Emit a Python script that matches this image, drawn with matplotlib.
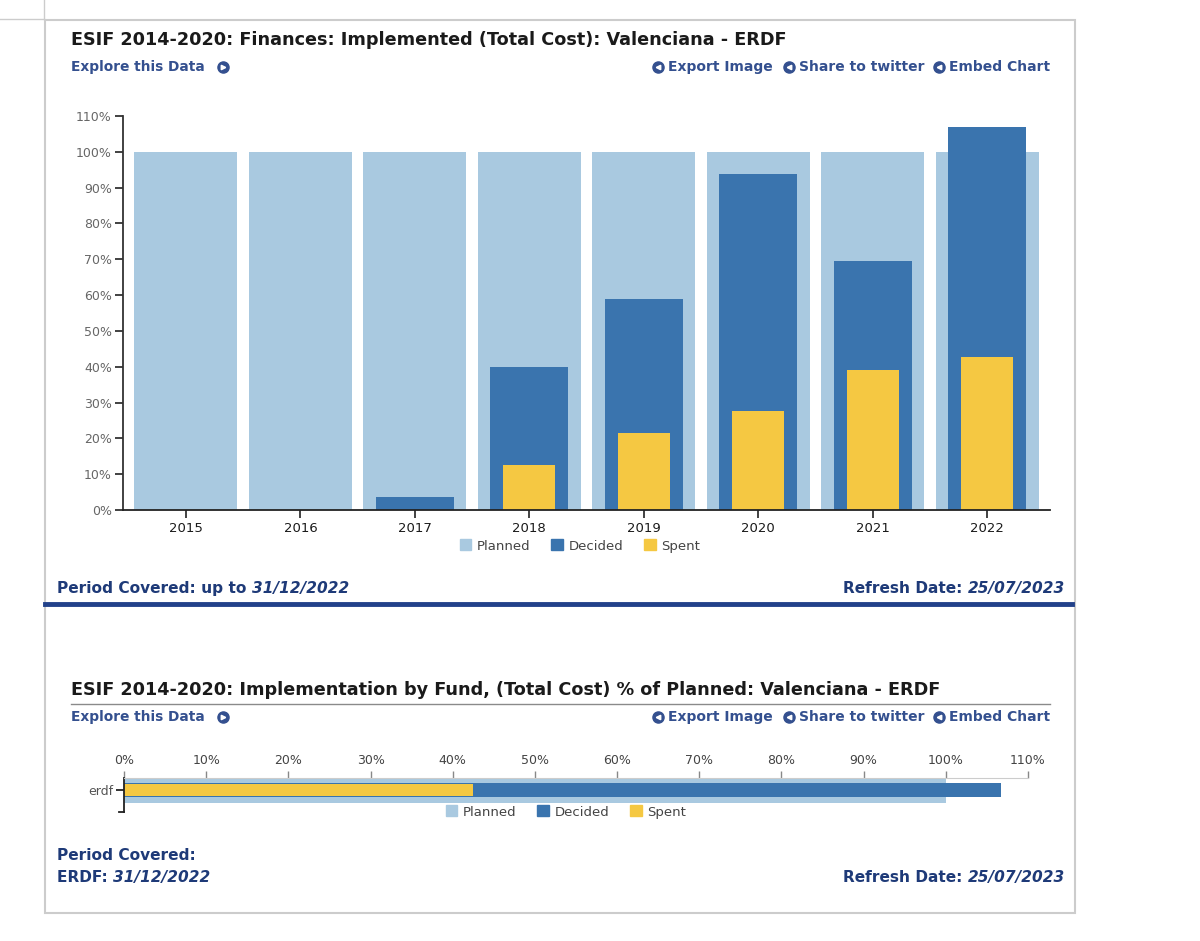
import matplotlib
matplotlib.use("Agg")
import matplotlib.pyplot as plt
from matplotlib.patches import Patch, Rectangle
from matplotlib.lines import Line2D
import numpy as np

# data
years = ["2015", "2016", "2017", "2018", "2019", "2020", "2021", "2022"]
planned = [100, 100, 100, 100, 100, 100, 100, 100]
decided = [0, 0, 3.6, 39.8, 58.8, 93.9, 69.6, 107.0]
spent = [0, 0, 0, 12.5, 21.4, 27.6, 39.0, 42.6]

fund = ["erdf"]
fund_planned = [100]
fund_decided = [106.7]
fund_spent = [42.5]

pct_ticks = list(range(0, 111, 10))

c_planned = "#a9c9e0"
c_decided = "#3a74ae"
c_spent = "#f5c842"
c_link = "#34508f"
c_navy = "#1e3a78"
c_title = "#1a1a1a"

W, H = 1200, 941
fig = plt.figure(figsize=(W / 100, H / 100), dpi=100)
renderer = fig.canvas.get_renderer()


def fx(px):
    return px / W


def fy(py):
    return 1 - py / H


# panel frame and separators
fig.add_artist(Rectangle((fx(45), fy(913)), fx(1075) - fx(45), fy(20) - fy(913),
                         transform=fig.transFigure, fill=False, ec="#cccccc", lw=1.5))
fig.add_artist(Line2D([fx(0), fx(44)], [fy(19), fy(19)], transform=fig.transFigure, color="#cccccc", lw=1))
fig.add_artist(Line2D([fx(44), fx(44)], [fy(0), fy(19)], transform=fig.transFigure, color="#cccccc", lw=1))
fig.add_artist(Line2D([fx(45), fx(1072)], [fy(604), fy(604)], transform=fig.transFigure, color="#22418a", lw=3.5))
fig.add_artist(Line2D([fx(71), fx(1050)], [fy(704), fy(704)], transform=fig.transFigure, color="#8a8a8a", lw=1))


def icon(px, py, left=False):
    fig.add_artist(Line2D([fx(px)], [fy(py)], transform=fig.transFigure, marker="o",
                          markersize=8, color=c_link, mec=c_link))
    fig.add_artist(Line2D([fx(px)], [fy(py)], transform=fig.transFigure, marker="<" if left else ">",
                          markersize=3.2, color="white", mec="white"))


def header(title, ty, ly):
    fig.text(fx(71), fy(ty), title, fontsize=12.7, fontweight="bold", color=c_title, va="center")
    fig.text(fx(71), fy(ly), "Explore this Data", fontsize=9.9, fontweight="bold", color=c_link, va="center")
    icon(223, ly)
    for ix, tx, label in [(658, 668, "Export Image"), (789, 799, "Share to twitter"), (939, 949, "Embed Chart")]:
        icon(ix, ly, left=True)
        fig.text(fx(tx), fy(ly), label, fontsize=10, fontweight="bold", color=c_link, va="center")


header("ESIF 2014-2020: Finances: Implemented (Total Cost): Valenciana - ERDF", 40, 67)
header("ESIF 2014-2020: Implementation by Fund, (Total Cost) % of Planned: Valenciana - ERDF", 690, 717)

foot_kw = dict(fontsize=11.1, fontweight="bold", color=c_navy, va="baseline")


def footer(px, py, label, date, ha="left"):
    # width of label and italic date, to place the pair on one baseline
    probe = fig.text(0, 0, date, style="italic", **foot_kw)
    wd = probe.get_window_extent(renderer).width
    probe.remove()
    probe = fig.text(0, 0, label, **foot_kw)
    wl = probe.get_window_extent(renderer).width
    probe.remove()
    x0 = px if ha == "left" else px - wl - wd
    fig.text(fx(x0), fy(py + 5), label, **foot_kw)
    fig.text(fx(x0 + wl), fy(py + 5), date, style="italic", **foot_kw)


footer(57, 588, "Period Covered: up to ", "31/12/2022")
footer(1065, 588, "Refresh Date: ", "25/07/2023", ha="right")
fig.text(fx(57), fy(855 + 5), "Period Covered:", **foot_kw)
footer(57, 877, "ERDF: ", "31/12/2022")
footer(1065, 877, "Refresh Date: ", "25/07/2023", ha="right")

# ---- top chart ----
ax = fig.add_axes([fx(123), fy(510), fx(1050) - fx(123), fy(116) - fy(510)])
x = np.arange(len(years))
ax.bar(x, planned, width=0.9, color=c_planned)
ax.bar(x, decided, width=0.68, color=c_decided)
ax.bar(x, spent, width=0.455, color=c_spent)
ax.set_xlim(-0.55, len(years) - 0.45)
ax.set_ylim(0, 110)
ax.set_yticks(pct_ticks)
ax.set_yticklabels([f"{v}%" for v in pct_ticks], fontsize=9, color="#666666")
ax.set_xticks(x)
ax.set_xticklabels(years, fontsize=9.5, color="#1a1a1a")
ax.tick_params(axis="y", length=6, width=1.3, color="#333333", pad=2)
ax.tick_params(axis="x", length=6, width=1.3, color="#333333", pad=3)
for s in ["top", "right"]:
    ax.spines[s].set_visible(False)
ax.spines["left"].set_color("#333333")
ax.spines["bottom"].set_color("#222222")
ax.spines["left"].set_linewidth(1.3)
ax.spines["bottom"].set_linewidth(1.3)

handles = [Patch(color=c_planned, label="Planned"), Patch(color=c_decided, label="Decided"),
           Patch(color=c_spent, label="Spent")]
fig.legend(handles=handles, loc="center", bbox_to_anchor=(fx(580), fy(546)), ncol=3, frameon=False,
           fontsize=9.5, handlelength=0.9, handleheight=0.9, handletextpad=0.4, columnspacing=1.6,
           labelcolor="#444444")

# ---- bottom chart ----
bx = fig.add_axes([fx(124), fy(812), fx(1028) - fx(124), fy(778) - fy(812)])
y = np.arange(len(fund))
bx.barh(y, fund_planned, height=0.76, color=c_planned)
bx.barh(y, fund_decided, height=0.42, color=c_decided)
bx.barh(y, fund_spent, height=0.36, color=c_spent)
bx.set_xlim(0, 110)
bx.set_ylim(-0.647, 0.353)
bx.xaxis.tick_top()
bx.set_xticks(pct_ticks)
bx.set_xticklabels([f"{v}%" for v in pct_ticks], fontsize=9, color="#444444")
bx.tick_params(axis="x", length=5, width=1, color="#888888", pad=3)
bx.set_yticks(y)
bx.set_yticklabels(fund, fontsize=9, color="#555555")
bx.tick_params(axis="y", length=6, width=1.3, color="#222222", pad=2)
for s in ["right", "bottom"]:
    bx.spines[s].set_visible(False)
bx.spines["top"].set_color("#cccccc")
bx.spines["left"].set_color("#222222")
bx.spines["left"].set_linewidth(1.3)
bx.plot([-0.6, 0], [-0.647, -0.647], color="#222222", lw=1.3, clip_on=False)

fig.legend(handles=handles, loc="center", bbox_to_anchor=(fx(566), fy(812)), ncol=3, frameon=False,
           fontsize=9.5, handlelength=0.9, handleheight=0.9, handletextpad=0.4, columnspacing=1.6,
           labelcolor="#444444")

fig.savefig("out.png", dpi=100)
